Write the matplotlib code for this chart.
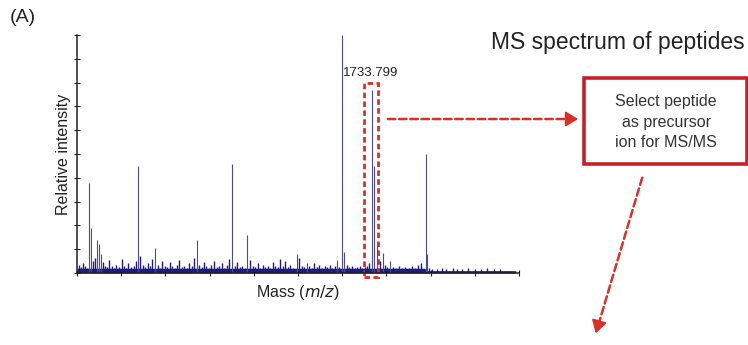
import matplotlib
matplotlib.use("Agg")
import matplotlib.pyplot as plt
from matplotlib.patches import Rectangle, FancyArrowPatch

plt.rcParams['font.family'] = ['Liberation Sans', 'DejaVu Sans']

# ---- data ----
peak_mz = [839, 843, 863, 870, 876, 994, 1047, 1179, 1292, 1340,
           1496, 1528, 1623, 1640, 1647, 1733.8, 1742, 1750, 1768, 1791,
           1904, 1908]
peak_int = [38, 19, 14, 12, 8, 45, 10.5, 14, 46, 16,
            8, 4, 5.5, 100, 9, 77, 45, 12, 8.4, 5,
            50, 8]

noise_mz = [805, 812, 818, 825, 831, 850, 856, 881, 888, 895,
            902, 910, 918, 925, 933, 941, 948, 956, 963, 971,
            979, 986, 1001, 1009, 1016, 1024, 1031, 1039, 1055, 1062,
            1070, 1078, 1086, 1093, 1101, 1109, 1117, 1124, 1132, 1140,
            1148, 1156, 1163, 1171, 1187, 1195, 1202, 1210, 1218, 1226,
            1234, 1242, 1250, 1258, 1266, 1274, 1282, 1300, 1308, 1316,
            1324, 1332, 1348, 1356, 1364, 1372, 1380, 1388, 1396, 1404,
            1412, 1420, 1428, 1436, 1444, 1452, 1460, 1468, 1476, 1484,
            1504, 1512, 1520, 1536, 1544, 1552, 1560, 1568, 1576, 1584,
            1592, 1600, 1608, 1616, 1630, 1655, 1663, 1671, 1679, 1687,
            1695, 1703, 1711, 1720, 1726, 1760, 1775, 1783, 1800, 1810,
            1820, 1830, 1840, 1850, 1860, 1870, 1880, 1890, 1915, 1925,
            1940, 1955, 1970, 1990, 2005, 2020, 2040, 2060, 2080, 2100,
            2120, 2140]
noise_int = [3.5, 2.5, 4.0, 3.0, 2.0, 5.0, 6.5, 4.5, 3.0, 2.5,
             5.5, 3.0, 2.0, 3.5, 2.5, 6.0, 3.0, 2.0, 4.0, 2.5,
             3.0, 5.0, 7.0, 3.5, 2.5, 4.0, 3.0, 6.0, 3.5, 2.0,
             5.0, 3.0, 2.5, 4.5, 3.0, 2.0, 3.5, 5.5, 2.5, 3.0,
             2.0, 4.0, 3.0, 6.5, 3.5, 2.5, 4.5, 3.0, 2.0, 3.5,
             5.0, 2.5, 3.0, 4.0, 2.0, 3.5, 6.0, 3.0, 4.5, 2.5,
             3.0, 2.0, 5.5, 3.0, 2.5, 4.0, 2.0, 3.5, 2.5, 3.0,
             2.0, 4.5, 3.0, 2.5, 6.0, 3.0, 5.0, 2.5, 3.5, 2.0,
             6.5, 3.0, 2.5, 3.0, 2.0, 4.0, 2.5, 3.5, 2.0, 3.0,
             2.5, 3.5, 2.0, 3.0, 2.5, 3.5, 2.5, 3.0, 2.0, 2.5,
             3.0, 2.0, 2.5, 3.0, 4.0, 5.0, 3.5, 2.5, 2.5, 2.0,
             3.0, 2.0, 2.5, 2.0, 3.0, 2.0, 3.5, 4.0, 2.0, 1.5,
             1.5, 2.0, 1.5, 2.0, 1.5, 1.5, 2.0, 1.5, 1.5, 2.0,
             1.5, 1.5]

base_mz = [800, 1900, 1912, 2190]
base_int = [2.0, 2.0, 1.0, 1.0]

precursor_mz = 1733.799
precursor_label = "1733.799"
box_lo, box_hi = 1710, 1754

# ---- figure ----
W, H = 748, 345
fig = plt.figure(figsize=(W / 100, H / 100), dpi=100)
ax = fig.add_axes([77 / W, 1 - 273 / H, 442 / W, 238 / H])

navy = '#1c1c80'
peakcol = '#4a4a96'
red = '#d8302a'

ax.fill_between(base_mz, 0, base_int, color=navy, lw=0)
ax.vlines(noise_mz, 0, noise_int, color=navy, lw=1.0)
ax.vlines(peak_mz, 0, peak_int, color=peakcol, lw=0.8)

ax.set_xlim(800, 2200)
ax.set_ylim(0, 100)
ax.set_xticks(range(800, 2201, 140))
ax.set_yticks(range(0, 101, 10))
ax.tick_params(direction='inout', length=4, width=0.8, colors='#222222',
               labelbottom=False, labelleft=False)
for s in ['top', 'right']:
    ax.spines[s].set_visible(False)
for s in ['left', 'bottom']:
    ax.spines[s].set_linewidth(1.1)
    ax.spines[s].set_color('#222222')

ax.set_xlabel('Mass ($\\it{m/z}$)', fontsize=11.5, labelpad=5, color='#222222')
ax.set_ylabel('Relative intensity', fontsize=11.5, labelpad=2, color='#222222')

ax.text(1642, 81.5, precursor_label, fontsize=9.5, ha='left',
        va='bottom', color='#222222')
ax.add_patch(Rectangle((box_lo, -1.7), box_hi - box_lo, 81.5, fill=False,
                       edgecolor=red, lw=2.0, ls=(0, (2, 1.2)), clip_on=False))

def fx(x):
    return x / W

def fy(y):
    return 1 - y / H

fig.text(fx(10), fy(18), '(A)', fontsize=14, ha='left', va='center', color='#222222')
fig.text(fx(745), fy(43), 'MS spectrum of peptides', fontsize=16.5, ha='right',
         va='center', color='#222222')

fig.patches.append(Rectangle((fx(584), fy(164)), fx(746.5 - 584), (164 - 78) / H,
                             transform=fig.transFigure, fill=True, facecolor='white',
                             edgecolor='#c8202a', lw=2.6))
fig.text(fx(666), fy(122), 'Select peptide\nas precursor\nion for MS/MS',
         fontsize=11.5, ha='center', va='center', linespacing=1.45, color='#333333')

# horizontal dashed arrow
fig.add_artist(FancyArrowPatch((fx(385), fy(119)), (fx(572), fy(119)),
                               transform=fig.transFigure, arrowstyle='-',
                               color=red, lw=1.8, ls=(0, (3, 1.5))))
fig.add_artist(FancyArrowPatch((fx(568), fy(119)), (fx(581), fy(119)),
                               transform=fig.transFigure, arrowstyle='-|>,head_length=5,head_width=3',
                               color=red, lw=1.5, mutation_scale=1.5))
# diagonal dashed arrow
fig.add_artist(FancyArrowPatch((fx(643), fy(175)), (fx(598), fy(326)),
                               transform=fig.transFigure, arrowstyle='-',
                               color=red, lw=1.8, ls=(0, (3, 1.5))))
fig.add_artist(FancyArrowPatch((fx(599), fy(322)), (fx(595), fy(336)),
                               transform=fig.transFigure, arrowstyle='-|>,head_length=5,head_width=3',
                               color=red, lw=1.5, mutation_scale=1.5))

fig.savefig('out.png', dpi=100)
